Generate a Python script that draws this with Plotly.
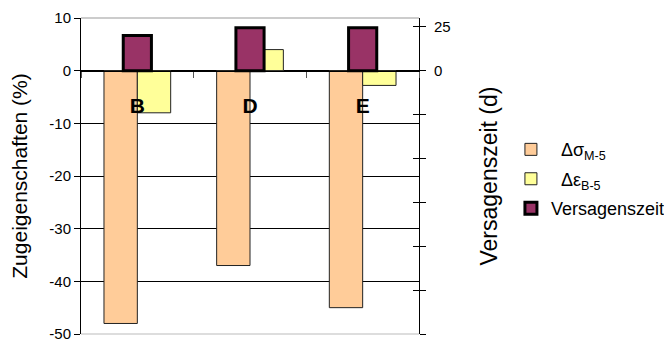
import plotly.graph_objects as go

categories = ["B", "D", "E"]
delta_sigma = [-48, -37, -45]
delta_eps = [-8, 4, -2.8]
versagenszeit = [20, 24.5, 24.5]

left_ticks = [10, 0, -10, -20, -30, -40, -50]
left_ticktext = ["10", "0", "-10", "-20", "-30", "-40", "-50"]
right_ticks = [25, 0, -25, -50, -75, -100, -125, -150]
right_ticktext = ["25", "0", "", "", "", "", "", ""]

FONT = "Liberation Sans, Arial, sans-serif"

fig = go.Figure()
fig.add_trace(go.Bar(
    x=categories, y=delta_sigma, name="\u00a0\u00a0Δσ<sub>M-5</sub>",
    legendgroup="a",
    marker=dict(color="#FFCC99", line=dict(color="#222222", width=1)),
    width=0.296, offset=-0.296, yaxis="y", hoverinfo="skip"))
fig.add_trace(go.Bar(
    x=categories, y=delta_eps, name="\u00a0\u00a0Δε<sub>B-5</sub>",
    legendgroup="b",
    marker=dict(color="#FFFF99", line=dict(color="#222222", width=1)),
    width=0.296, offset=0, yaxis="y", hoverinfo="skip"))
fig.add_trace(go.Bar(
    x=categories, y=versagenszeit, name="Versagenszeit",
    legendgroup="c",
    marker=dict(color="#993366", line=dict(color="#000000", width=3)),
    width=0.25, offset=-0.125, yaxis="y2", hoverinfo="skip"))
# helper trace so the inner tick marks of the right axis are drawn
fig.add_trace(go.Scatter(
    x=categories, y=versagenszeit, yaxis="y3", mode="markers",
    marker=dict(opacity=0), showlegend=False, hoverinfo="skip"))

fig.update_layout(
    width=664, height=336,
    margin=dict(l=73, r=253, t=10, b=10, autoexpand=False),
    paper_bgcolor="white", plot_bgcolor="white",
    barmode="overlay",
    font=dict(family=FONT, size=15, color="black"),
    xaxis=dict(
        type="category", range=[-0.5, 2.5],
        anchor="free", position=50/60, automargin=False,
        showline=True, linecolor="black", linewidth=1,
        ticks="outside", tickson="boundaries", ticklen=6, tickcolor="#555555",
        tickfont=dict(family=FONT, size=21, color="black", weight="bold"),
        ticklabelstandoff=16,
        showgrid=False, zeroline=False,
    ),
    yaxis=dict(
        range=[-50, 10], tickvals=left_ticks, ticktext=left_ticktext,
        automargin=False,
        showgrid=True, gridcolor="black", gridwidth=1,
        ticks="outside", ticklen=6, tickcolor="black",
        showline=True, linecolor="black", linewidth=1,
        zeroline=False,
        tickfont=dict(size=15),
        title=dict(text="Zugeigenschaften (%)", font=dict(size=21), standoff=15),
    ),
    yaxis2=dict(
        overlaying="y", side="right", anchor="x", automargin=False,
        range=[-150, 30], tickvals=right_ticks, ticktext=right_ticktext,
        ticks="outside", ticklen=6, tickcolor="black",
        ticklabelstandoff=5,
        showline=True, linecolor="black", linewidth=1,
        showgrid=False, zeroline=False,
        tickfont=dict(size=15),
        title=dict(text="Versagenszeit (d)", font=dict(size=23), standoff=31),
    ),
    yaxis3=dict(
        overlaying="y", side="right", anchor="x", automargin=False,
        range=[-150, 30], tickvals=right_ticks,
        ticks="inside", ticklen=6, tickcolor="black",
        showticklabels=False, showline=False,
        showgrid=False, zeroline=False,
    ),
    legend=dict(
        x=1.272, xanchor="left", y=0.49, yanchor="middle",
        font=dict(size=18), bgcolor="rgba(0,0,0,0)",
        itemwidth=30, tracegroupgap=3,
    ),
    shapes=[
        dict(type="line", xref="paper", yref="paper", x0=0, x1=1, y0=1, y1=1,
             line=dict(color="#999999", width=1), layer="above"),
        dict(type="line", xref="paper", yref="paper", x0=0, x1=1, y0=0, y1=0,
             line=dict(color="#BBBBBB", width=1), layer="above"),
    ],
)

fig.write_html("out.html")
